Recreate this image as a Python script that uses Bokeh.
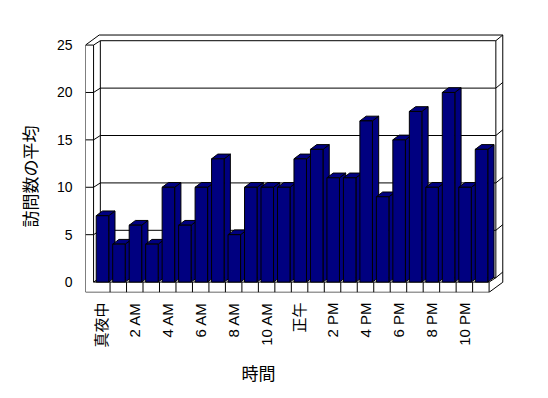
import math
from bokeh.plotting import figure
from bokeh.models import Range1d, FixedTicker, ColumnDataSource, Title
from bokeh.embed import file_html
from bokeh.resources import INLINE

# ---- data ----
hours = ["真夜中", "1 AM", "2 AM", "3 AM", "4 AM", "5 AM", "6 AM", "7 AM",
         "8 AM", "9 AM", "10 AM", "11 AM", "正午", "1 PM", "2 PM", "3 PM",
         "4 PM", "5 PM", "6 PM", "7 PM", "8 PM", "9 PM", "10 PM", "11 PM"]
visits = [7, 4, 6, 4, 10, 6, 10, 13, 5, 10, 10, 10,
          13, 14, 11, 11, 17, 9, 15, 18, 10, 20, 10, 14]
y_ticks = [0, 5, 10, 15, 20, 25]
y_title = "訪問数の平均"
x_title = "時間"

# ---- pseudo-3D geometry (data units) ----
n = len(visits)
YMAX = 25
WALL = 0.49            # left wall thickness (categories)
FLOOR = 1.08           # floor thickness (values)
DX, DY = 0.41, 0.46    # floor depth
TX, TY = 0.42, 0.60    # back wall thickness
BAR_L, BAR_R = 0.16, 0.92
BDX, BDY = 0.38, 0.50

W, H = 548, 398
BL, BR, BT, BB = 85, 30, 28, 106
FW, FH = W - BL - BR, H - BT - BB
PX_X, PX_Y = 16.48, 9.48          # pixels per category / per value unit
Y0 = -1.10
x_range = Range1d(-WALL, -WALL + FW / PX_X)
y_range = Range1d(Y0, Y0 + FH / PX_Y)

LATIN = "Liberation Sans, Noto Sans CJK JP"
CJK = "Noto Sans CJK JP"

p = figure(width=W, height=H, x_range=x_range, y_range=y_range,
           min_border_left=BL, min_border_right=BR, min_border_top=BT,
           min_border_bottom=BB, toolbar_location=None, output_backend="svg")
p.outline_line_color = None
p.background_fill_color = "white"
p.border_fill_color = "white"
p.xgrid.visible = False
p.ygrid.visible = False

# silhouette (white box)
sx = [-WALL, -WALL, -WALL + DX + TX, n + DX + TX, n + DX + TX, n]
sy = [-FLOOR, YMAX, YMAX + DY + TY, YMAX + DY + TY, -FLOOR + DY + TY, -FLOOR]
p.patch(sx, sy, fill_color="white", line_color="black", line_width=1)

xs, ys = [], []
# structural edges
xs += [[0, 0], [DX, DX], [n + DX, n + DX], [0, n], [n, n], [n, n + DX]]
ys += [[0, YMAX], [DY, YMAX + DY], [DY, YMAX + DY], [0, 0], [-FLOOR, 0], [0, DY]]
for i in range(1, n):
    xs.append([i, i])
    ys.append([-FLOOR, 0])
# gridlines across walls
for v in y_ticks:
    if v > 0:
        xs.append([-WALL, 0, DX, n + DX, n + DX + TX])
        ys.append([v, v, v + DY, v + DY, v + DY + TY])
    else:
        xs.append([0, DX, n + DX, n + DX + TX])
        ys.append([v, v + DY, v + DY, v + DY + TY])
p.multi_line(xs, ys, line_color="black", line_width=1)

# bars: side, top, front for each
bx, by = [], []
for i, h in enumerate(visits):
    x0, x1 = i + BAR_L, i + BAR_R
    bx.append([x1, x1 + BDX, x1 + BDX, x1]); by.append([0, BDY, h + BDY, h])
    bx.append([x0, x1, x1 + BDX, x0 + BDX]); by.append([h, h, h + BDY, h + BDY])
    bx.append([x0, x1, x1, x0]); by.append([0, 0, h, h])
src = ColumnDataSource(dict(xs=bx, ys=by))
p.patches("xs", "ys", source=src, fill_color="#000080", line_color="black",
          line_width=1)

# axes
ya = p.yaxis[0]
ya.ticker = FixedTicker(ticks=y_ticks)
ya.axis_line_color = None
ya.major_tick_line_color = None
ya.minor_tick_line_color = None
ya.major_tick_out = 0
ya.major_tick_in = 0
ya.major_label_standoff = 13
ya.major_label_text_font = LATIN
ya.major_label_text_font_size = "14px"
ya.major_label_text_color = "black"

xa = p.xaxis[0]
shown = list(range(0, n, 2))
xa.ticker = FixedTicker(ticks=[i + 0.5 for i in shown])
xa.major_label_overrides = {i + 0.5: hours[i] for i in shown}
xa.major_label_orientation = math.pi / 2
xa.axis_line_color = None
xa.major_tick_line_color = None
xa.minor_tick_line_color = None
xa.major_tick_out = 0
xa.major_tick_in = 0
xa.major_label_standoff = 10
xa.major_label_text_font = LATIN
xa.major_label_text_font_size = "15px"
xa.major_label_text_color = "black"

# axis titles
p.add_layout(Title(text=x_title, align="left", offset=156, standoff=14,
                   text_font=CJK, text_font_size="17px",
                   text_font_style="normal", text_color="black"), "below")
p.add_layout(Title(text=y_title, align="left", offset=65, standoff=24,
                   text_font=CJK, text_font_size="17px",
                   text_font_style="normal", text_color="black"), "left")

open("out.html", "w").write(file_html(p, INLINE))
